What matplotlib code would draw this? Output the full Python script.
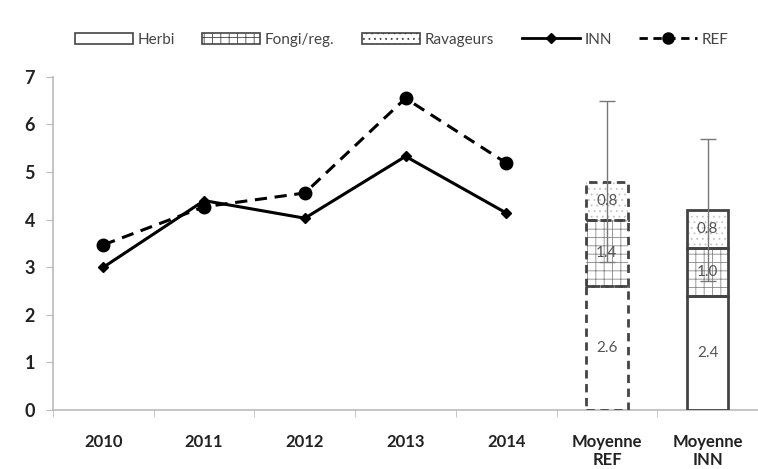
import matplotlib.pyplot as plt
from matplotlib.patches import Patch
from matplotlib.lines import Line2D

plt.rcParams['font.family'] = ['Lato', 'DejaVu Sans']
plt.rcParams['hatch.linewidth'] = 0.6

years = ['2010', '2011', '2012', '2013', '2014']
inn = [3.0, 4.4, 4.03, 5.33, 4.14]
ref = [3.47, 4.27, 4.56, 6.55, 5.19]

mean_labels = ['Moyenne\nREF', 'Moyenne\nINN']
herbi = [2.6, 2.4]
fongi = [1.4, 1.0]
ravageurs = [0.8, 0.8]
mean_err = [1.7, 1.5]

fig = plt.figure(figsize=(7.58, 4.69), dpi=100)
ax = fig.add_axes([0.070, 0.126, 0.93, 0.71])

x_years = list(range(len(years)))
ax.plot(x_years, ref, color='black', lw=2.2, ls=(0, (4, 2.5)), marker='o', ms=9, zorder=4)
ax.plot(x_years, inn, color='black', lw=2.2, marker='D', ms=5, zorder=5)

x_bars = [len(years), len(years) + 1]
w = 0.41
edge = '#444444'
hatch_cols = [None, '#888888', '#c4c4c4']
for i, xb in enumerate(x_bars):
    ls = (0, (3, 2)) if i == 0 else '-'
    segs = [herbi[i], fongi[i], ravageurs[i]]
    hatches = [None, '++', '...']
    bottom = 0
    for val, h, hc in zip(segs, hatches, hatch_cols):
        ax.bar(xb, val, w, bottom=bottom, color='white', edgecolor=hc or 'white',
               hatch=h, lw=0, zorder=2)
        ax.bar(xb, val, w, bottom=bottom, fill=False, edgecolor=edge,
               lw=2.0, ls=ls, zorder=3)
        ax.text(xb, bottom + val / 2, f'{val:.1f}', ha='center', va='center',
                fontsize=11, color='#555555', zorder=6)
        bottom += val
    ax.errorbar(xb, bottom, yerr=mean_err[i], color='#777777', lw=1.0,
                capsize=6, capthick=1.0, zorder=5)

ax.set_xlim(-0.5, 6.5)
ax.set_ylim(0, 7)
ax.set_xticks(range(7))
ax.set_xticklabels(years + mean_labels, fontsize=12, fontweight='bold', color='#222222')
ax.set_xticks([k + 0.5 for k in range(-1, 7)], minor=True)
ax.tick_params(axis='x', which='major', length=0, pad=17)
ax.tick_params(axis='x', which='minor', length=5, color='#bbbbbb')
ax.set_yticks(range(8))
ax.tick_params(axis='y', labelsize=13, length=5, color='#bbbbbb', pad=8)
for t in ax.get_yticklabels():
    t.set_fontweight('bold')
    t.set_color('#222222')

for s in ['top', 'right']:
    ax.spines[s].set_visible(False)
for s in ['left', 'bottom']:
    ax.spines[s].set_color('#bbbbbb')
    ax.spines[s].set_linewidth(1.2)

handles = [
    Patch(facecolor='white', edgecolor=edge, lw=1.2, label='Herbi'),
    Patch(facecolor='white', edgecolor=edge, lw=1.2, hatch='++', label='Fongi/reg.'),
    Patch(facecolor='white', edgecolor=edge, lw=1.2, hatch='...', label='Ravageurs'),
    Line2D([], [], color='black', lw=2, marker='D', ms=5, label='INN'),
    Line2D([], [], color='black', lw=2, ls=(0, (3, 2)), marker='o', ms=8, label='REF'),
]
fig.legend(handles=handles, loc='center', bbox_to_anchor=(0.53, 0.915), ncol=5,
           frameon=False, fontsize=11, handlelength=3.8, handleheight=0.8,
           columnspacing=1.8, handletextpad=0.3, labelcolor='#444444')

fig.savefig('out.png', dpi=100)
